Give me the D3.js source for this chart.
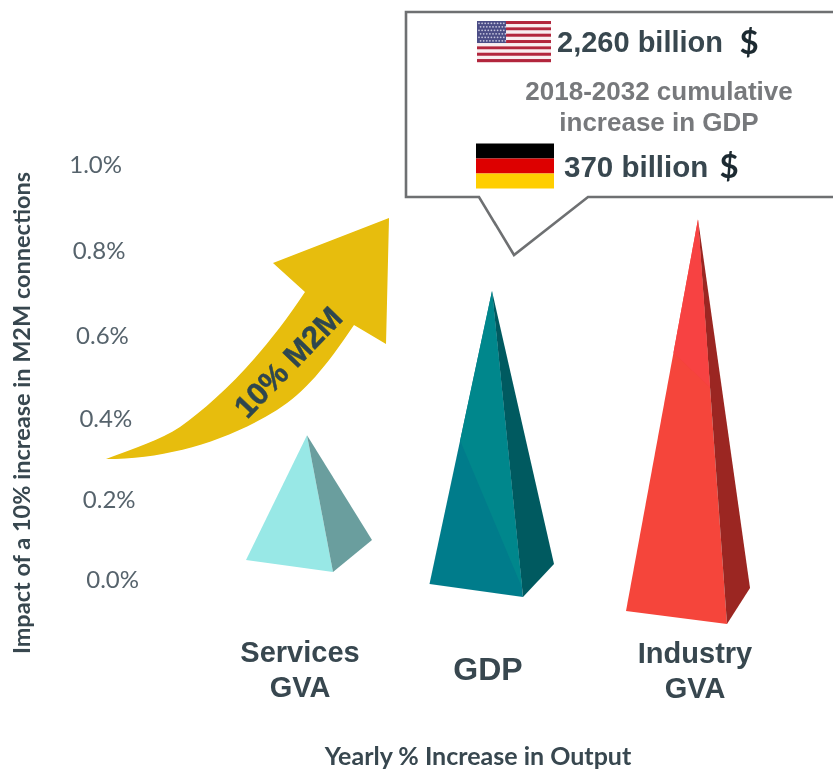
<!DOCTYPE html>
<html>
<head>
<meta charset="utf-8">
<script src="https://cdn.jsdelivr.net/npm/d3@7"></script>
<style>
  html, body { margin: 0; padding: 0; background: #fff; }
  svg { display: block; }
</style>
</head>
<body>
<div id="chart"></div>
<script>
const categories = ["Services GVA", "GDP", "Industry GVA"];
const labelLines = [["Services", "GVA"], ["GDP"], ["Industry", "GVA"]];

// apex of each pyramid, read against the y axis (%)
const topValues = [0.36, 0.706, 0.874];
// base corners sit in perspective, so they read a little off zero
const frontValues = [0.02, -0.0425, -0.11];
const leftValues = [0.05, -0.01, -0.0775];
const rightValues = [0.10, 0.04, -0.02];

const tickValues = [0, 0.2, 0.4, 0.6, 0.8, 1.0];

const width = 833;
const height = 772;

const root = d3.select("#chart").append("svg")
  .attr("width", width)
  .attr("height", height)
  .attr("viewBox", `0 0 ${width} ${height}`);

// the source is a slightly soft raster, take the hard edge off
root.append("defs").append("filter")
  .attr("id", "soft")
  .attr("x", 0).attr("y", 0)
  .attr("width", "100%").attr("height", "100%")
  .attr("filterUnits", "userSpaceOnUse")
  .append("feGaussianBlur")
  .attr("stdDeviation", 0.5);

const svg = root.append("g").attr("filter", "url(#soft)");

svg.append("rect")
  .attr("width", width)
  .attr("height", height)
  .attr("fill", "#fff");

const textDark = "#37474f";
const sansBold = "'Liberation Sans', Arial, sans-serif";

// the axis is drawn in perspective, ticks are not evenly spaced
const y = d3.scaleLinear().domain(tickValues).range([580, 500, 419, 336, 251, 165]);
const x = d3.scaleOrdinal().domain(categories).range([307, 492, 698]);
// right edge of the tick labels drifts with the value
const tickX = d3.scaleLinear().domain([0, 1]).range([139, 122]);

const yAxis = svg.append("g")
  .call(d3.axisLeft(y).tickValues(tickValues).tickSize(0).tickFormat(d => d.toFixed(1) + "%"));
yAxis.select(".domain").remove();
yAxis.selectAll(".tick")
  .attr("transform", d => `translate(${tickX(d)},${y(d)})`);
yAxis.selectAll("text")
  .attr("x", 0)
  .attr("dy", "0.35em")
  .style("font-family", "Lato, sans-serif")
  .style("font-size", "24px")
  .style("fill", "#56636c");

svg.append("text")
  .attr("transform", "translate(30,413) rotate(-90)")
  .attr("text-anchor", "middle")
  .style("font-family", "Lato, sans-serif")
  .style("font-weight", "bold")
  .style("font-size", "23.5px")
  .style("fill", textDark)
  .text("Impact of a 10% increase in M2M connections");

svg.append("text")
  .attr("x", 478)
  .attr("y", 765)
  .attr("text-anchor", "middle")
  .style("font-family", "Lato, sans-serif")
  .style("font-weight", "bold")
  .style("font-size", "25px")
  .style("fill", textDark)
  .text("Yearly % Increase in Output");

// curved arrow
const arrow = d3.path();
arrow.moveTo(106, 459);
arrow.bezierCurveTo(135, 448, 160, 440, 180, 427);
arrow.bezierCurveTo(215, 402, 260, 360, 305, 292);
arrow.lineTo(273, 263);
arrow.lineTo(389, 218);
arrow.lineTo(386, 344);
arrow.lineTo(354, 325);
arrow.bezierCurveTo(325, 368, 305, 392, 277, 410);
arrow.bezierCurveTo(225, 442, 165, 459, 106, 459);
arrow.closePath();

svg.append("path")
  .attr("d", arrow.toString())
  .attr("fill", "#e7bd07");

svg.append("text")
  .attr("transform", "translate(288,362) rotate(-46)")
  .attr("text-anchor", "middle")
  .attr("dy", "0.35em")
  .style("font-family", sansBold)
  .style("font-weight", "bold")
  .style("font-size", "31px")
  .style("fill", "#2f4650")
  .style("stroke", "#2f4650")
  .style("stroke-width", 0.5)
  .text("10% M2M");

// pyramids
const footprints = [
  { left: -61, front: 26, right: 65 },
  { left: -62.5, front: 31, right: 62 },
  { left: -72, front: 29, right: 52 }
];
const faceColors = [
  { front: "#98e8e6", side: "#6a9e9e" },
  { front: "#067c8b", side: "#025a60", light: "#03878c" },
  { front: "#f5443a", side: "#9b2720", light: "#f74343" }
];
// lighter sheen on the front face: fractions along left edge and ridge
const sheens = [null, { edge: 0.51, ridge: 0.97 }, { edge: 0.34, ridge: 0.415 }];

const along = (a, b, t) => [a[0] + (b[0] - a[0]) * t, a[1] + (b[1] - a[1]) * t];

const pyramids = svg.append("g")
  .selectAll("g")
  .data(categories)
  .enter()
  .append("g")
  .each(function (c, i) {
    const g = d3.select(this);
    const cx = x(c);
    const fp = footprints[i];
    const apex = [cx, y(topValues[i])];
    const left = [cx + fp.left, y(leftValues[i])];
    const front = [cx + fp.front, y(frontValues[i])];
    const right = [cx + fp.right, y(rightValues[i])];
    const line = d3.line();

    g.append("path")
      .attr("d", line([apex, left, front]) + "Z")
      .attr("fill", faceColors[i].front);
    g.append("path")
      .attr("d", line([apex, front, right]) + "Z")
      .attr("fill", faceColors[i].side);

    if (sheens[i]) {
      g.append("path")
        .attr("d", line([apex, along(apex, left, sheens[i].edge), along(apex, front, sheens[i].ridge)]) + "Z")
        .attr("fill", faceColors[i].light);
    }
  });

// category labels
const labelX = [300, 488, 695];
const labelY = [662, 680, 663];
const labelSize = [29, 32, 29];

labelLines.forEach((lines, i) => {
  svg.append("text")
    .attr("text-anchor", "middle")
    .style("font-family", sansBold)
    .style("font-weight", "bold")
    .style("font-size", labelSize[i] + "px")
    .style("fill", textDark)
    .selectAll("tspan")
    .data(lines)
    .enter()
    .append("tspan")
    .attr("x", labelX[i])
    .attr("y", (d, j) => labelY[i] + j * 35)
    .text(d => d);
});

// callout
const callout = d3.path();
callout.moveTo(850, 12);
callout.lineTo(406, 12);
callout.lineTo(406, 197);
callout.lineTo(479, 197);
callout.lineTo(514, 255);
callout.lineTo(588, 197);
callout.lineTo(850, 197);

svg.append("path")
  .attr("d", callout.toString())
  .attr("fill", "#fff")
  .attr("stroke", "#6e7072")
  .attr("stroke-width", 2.6);

// US flag
const usFlag = svg.append("g").attr("transform", "translate(477,21)");
d3.range(13).forEach(i => {
  usFlag.append("rect")
    .attr("y", i * 3.17)
    .attr("width", 74)
    .attr("height", 3.17)
    .attr("fill", i % 2 ? "#f8eef0" : "#b2283e");
});
usFlag.append("rect")
  .attr("width", 29)
  .attr("height", 22)
  .attr("fill", "#4c4d86");
d3.range(6).forEach(r => {
  d3.range(9).forEach(k => {
    usFlag.append("circle")
      .attr("cx", 2 + k * 3.1 + (r % 2 ? 1.6 : 0))
      .attr("cy", 2.3 + r * 3.5)
      .attr("r", 0.9)
      .attr("fill", "#c4c4dc");
  });
});

// German flag
["#000000", "#dd0000", "#ffce00"].forEach((color, i) => {
  svg.append("rect")
    .attr("x", 476)
    .attr("y", 143.5 + i * 15)
    .attr("width", 78)
    .attr("height", 15)
    .attr("fill", color);
});

const calloutText = [
  { text: "2,260 billion", x: 557, y: 52, size: 29, fill: textDark, anchor: "start", font: sansBold },
  { text: "$", x: 749, y: 54, size: 33, fill: "#1e2a30", anchor: "middle", font: "Lato, sans-serif" },
  { text: "2018-2032 cumulative", x: 659, y: 100, size: 26, fill: "#77797c", anchor: "middle", font: sansBold },
  { text: "increase in GDP", x: 659, y: 131, size: 26, fill: "#77797c", anchor: "middle", font: sansBold },
  { text: "370 billion", x: 564, y: 177, size: 29.5, fill: textDark, anchor: "start", font: sansBold },
  { text: "$", x: 729, y: 178, size: 33, fill: "#1e2a30", anchor: "middle", font: "Lato, sans-serif" }
];

svg.append("g")
  .selectAll("text")
  .data(calloutText)
  .enter()
  .append("text")
  .attr("x", d => d.x)
  .attr("y", d => d.y)
  .attr("text-anchor", d => d.anchor)
  .style("font-family", d => d.font)
  .style("font-weight", "bold")
  .style("font-size", d => d.size + "px")
  .style("fill", d => d.fill)
  .text(d => d.text);
</script>
</body>
</html>
